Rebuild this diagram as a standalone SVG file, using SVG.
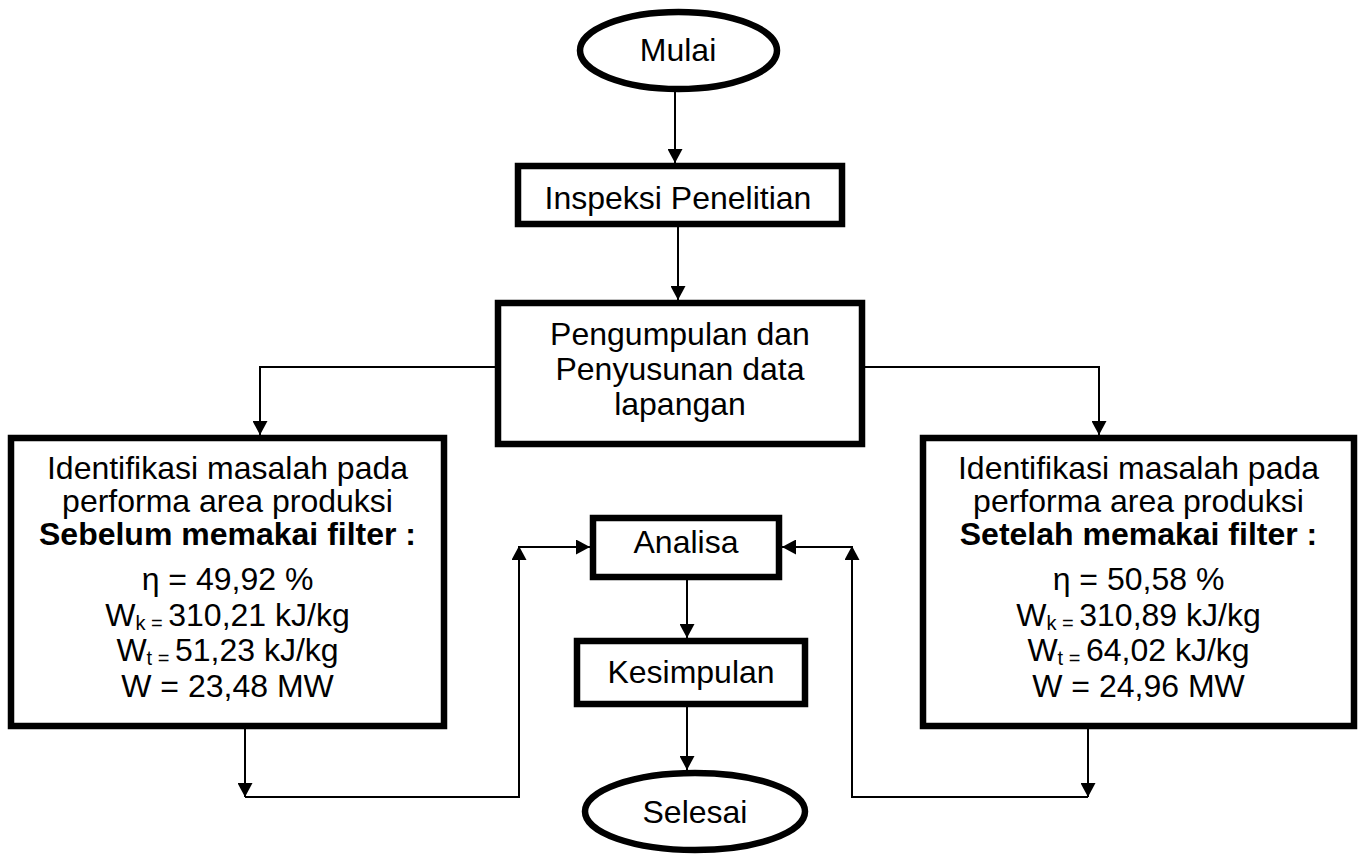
<svg xmlns="http://www.w3.org/2000/svg" width="1363" height="855" viewBox="0 0 1363 855">
<style>
.box{fill:#fff;stroke:#000;stroke-width:6.5}
.t{font-family:"Liberation Sans",Arial,sans-serif;font-size:32px;fill:#000;text-anchor:middle}
.b{font-weight:bold}
.s{font-size:20px}
.c{fill:none;stroke:#000;stroke-width:2}
</style>
<defs>
<marker id="ah" markerUnits="userSpaceOnUse" markerWidth="15" markerHeight="15" refX="14" refY="7.5" orient="auto" viewBox="0 0 15 15">
<path d="M0,0 L14,7.5 L0,15 z" fill="#000"/>
</marker>
</defs>
<rect width="1363" height="855" fill="#fff"/>
<g id="connectors">
<line class="c" x1="675" y1="92" x2="675" y2="163" marker-end="url(#ah)"/>
<line class="c" x1="678" y1="227" x2="678" y2="300" marker-end="url(#ah)"/>
<polyline class="c" points="495,367 260,367 260,435" marker-end="url(#ah)"/>
<polyline class="c" points="865,367 1099,367 1099,435" marker-end="url(#ah)"/>
<line class="c" x1="245" y1="729" x2="245" y2="797" marker-end="url(#ah)"/>
<polyline class="c" points="245,797 519,797 519,546" marker-end="url(#ah)"/>
<line class="c" x1="519" y1="547" x2="590" y2="547" marker-end="url(#ah)"/>
<line class="c" x1="1088" y1="729" x2="1088" y2="797" marker-end="url(#ah)"/>
<polyline class="c" points="1088,797 852,797 852,546" marker-end="url(#ah)"/>
<line class="c" x1="852" y1="547" x2="782" y2="547" marker-end="url(#ah)"/>
<line class="c" x1="687" y1="580" x2="687" y2="638" marker-end="url(#ah)"/>
<line class="c" x1="687" y1="707" x2="687" y2="770" marker-end="url(#ah)"/>
</g>
<g id="mulai">
<ellipse class="box" cx="678.5" cy="50.5" rx="98.5" ry="38.5"/>
<text class="t" x="678" y="61">Mulai</text>
</g>
<g id="inspeksi">
<rect class="box" x="518" y="166" width="324" height="58"/>
<text class="t" x="678" y="209">Inspeksi Penelitian</text>
</g>
<g id="pengumpulan">
<rect class="box" x="498" y="303" width="364" height="141"/>
<text class="t" x="680" y="345">Pengumpulan dan</text>
<text class="t" x="680" y="380">Penyusunan data</text>
<text class="t" x="680" y="415">lapangan</text>
</g>
<g id="sebelum">
<rect class="box" x="11" y="438" width="433" height="288"/>
<text class="t" x="227.5" y="479">Identifikasi masalah pada</text>
<text class="t" x="227.5" y="512">performa area produksi</text>
<text class="t b" x="227.5" y="545">Sebelum memakai filter :</text>
<text class="t" x="227.5" y="590">η = 49,92 %</text>
<text class="t" x="227.5" y="626">W<tspan class="s" dy="4">k = </tspan><tspan dy="-4">310,21 kJ/kg</tspan></text>
<text class="t" x="227.5" y="661">W<tspan class="s" dy="4">t = </tspan><tspan dy="-4">51,23 kJ/kg</tspan></text>
<text class="t" x="227.5" y="697">W = 23,48 MW</text>
</g>
<g id="setelah">
<rect class="box" x="923" y="438" width="431" height="288"/>
<text class="t" x="1138.5" y="479">Identifikasi masalah pada</text>
<text class="t" x="1138.5" y="512">performa area produksi</text>
<text class="t b" x="1138.5" y="545">Setelah memakai filter :</text>
<text class="t" x="1138.5" y="590">η = 50,58 %</text>
<text class="t" x="1138.5" y="626">W<tspan class="s" dy="4">k = </tspan><tspan dy="-4">310,89 kJ/kg</tspan></text>
<text class="t" x="1138.5" y="661">W<tspan class="s" dy="4">t = </tspan><tspan dy="-4">64,02 kJ/kg</tspan></text>
<text class="t" x="1138.5" y="697">W = 24,96 MW</text>
</g>
<g id="analisa">
<rect class="box" x="593" y="518" width="186" height="59"/>
<text class="t" x="686" y="553">Analisa</text>
</g>
<g id="kesimpulan">
<rect class="box" x="577" y="641" width="228" height="63"/>
<text class="t" x="691" y="683">Kesimpulan</text>
</g>
<g id="selesai">
<ellipse class="box" cx="695" cy="811.5" rx="110" ry="38.5"/>
<text class="t" x="695" y="823">Selesai</text>
</g>
</svg>
